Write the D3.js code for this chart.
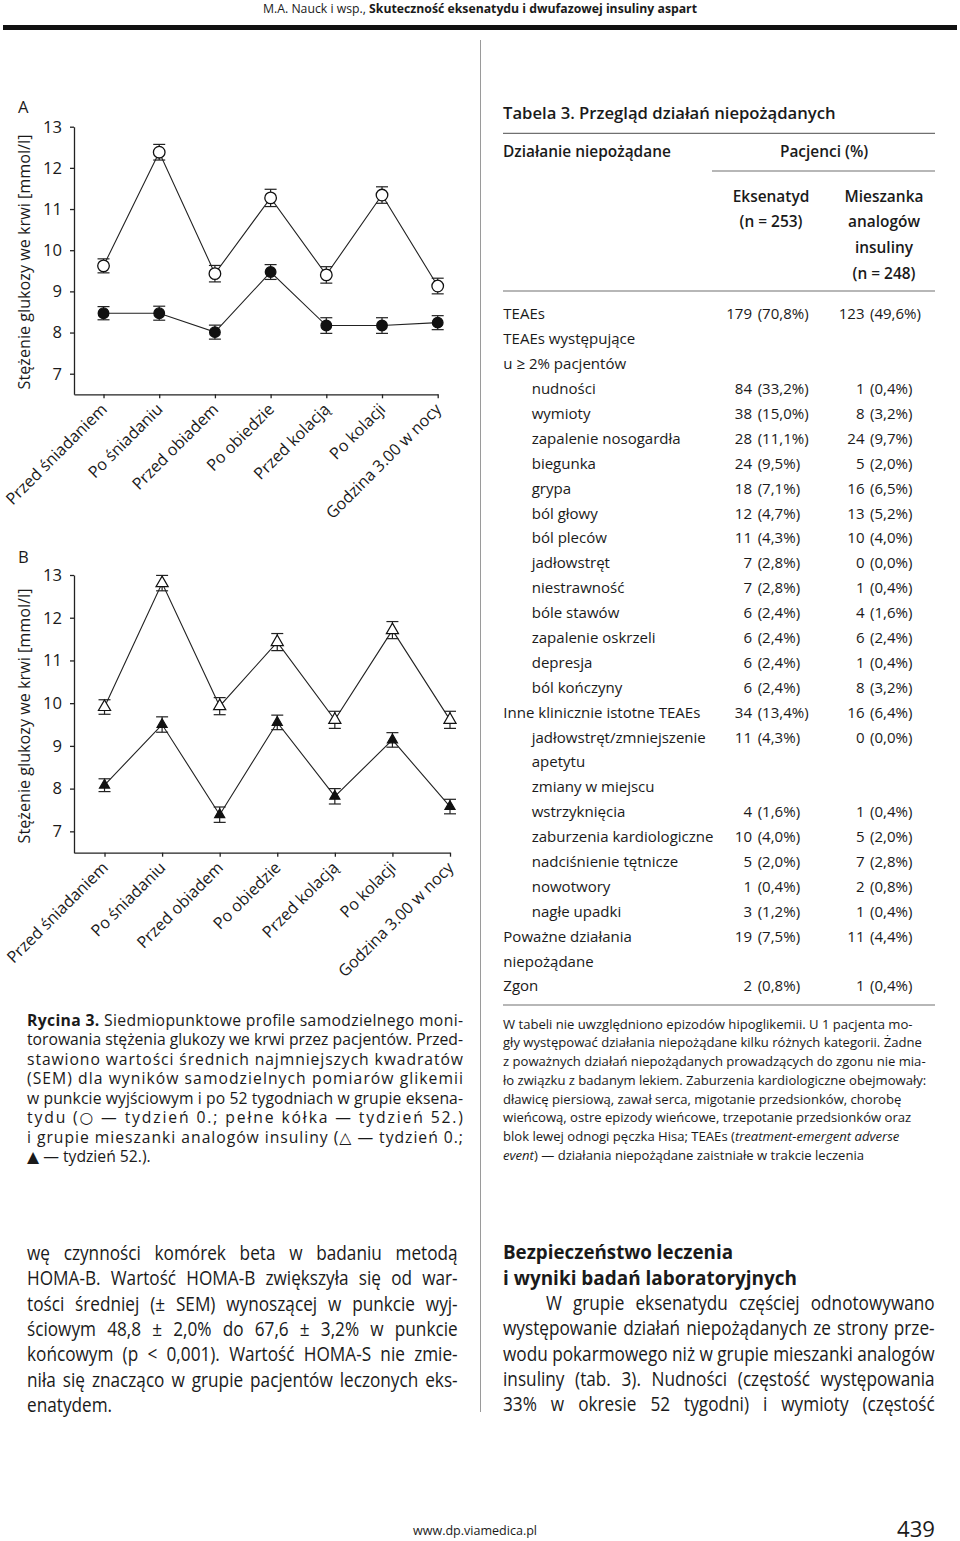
<!DOCTYPE html>
<html><head><meta charset="utf-8">
<script src="https://cdn.jsdelivr.net/npm/d3@7"></script>
<style>body{margin:0;background:#fff}svg{display:block}</style>
</head><body>
<script>
// ---------------- DATA ----------------
const categories = ["Przed śniadaniem","Po śniadaniu","Przed obiadem","Po obiedzie","Przed kolacją","Po kolacji","Godzina 3.00 w nocy"];
const yTicks = [7,8,9,10,11,12,13];
// Panel A – eksenatyd
const exenWeek0    = [9.62,12.38,9.43,11.27,9.40,11.34,9.13];
const exenWeek0Err = [0.17,0.19,0.20,0.21,0.20,0.20,0.19];
const exenWeek52    = [8.47,8.47,8.01,9.47,8.17,8.17,8.24];
const exenWeek52Err = [0.16,0.17,0.17,0.18,0.19,0.19,0.17];
// Panel B – mieszanka analogów insuliny
const mixWeek0    = [9.91,12.81,9.93,11.43,9.61,11.71,9.61];
const mixWeek0Err = [0.17,0.18,0.20,0.20,0.20,0.20,0.20];
const mixWeek52    = [8.08,9.50,7.39,9.55,7.82,9.14,7.58];
const mixWeek52Err = [0.15,0.18,0.18,0.17,0.18,0.17,0.17];

// Table 3
const tableLabels = ["TEAEs","TEAEs występujące","u ≥ 2% pacjentów","nudności","wymioty","zapalenie nosogardła","biegunka","grypa","ból głowy","ból pleców","jadłowstręt","niestrawność","bóle stawów","zapalenie oskrzeli","depresja","ból kończyny","Inne klinicznie istotne TEAEs","jadłowstręt/zmniejszenie","apetytu","zmiany w miejscu","wstrzyknięcia","zaburzenia kardiologiczne","nadciśnienie tętnicze","nowotwory","nagłe upadki","Poważne działania","niepożądane","Zgon"];
const tableLevels = [0,0,0,1,1,1,1,1,1,1,1,1,1,1,1,1,0,1,1,1,1,1,1,1,1,0,0,0];
const exenCounts = ["179","","","84","38","28","24","18","12","11","7","7","6","6","6","6","34","11","","","4","10","5","1","3","19","","2"];
const exenPct    = ["(70,8%)","","","(33,2%)","(15,0%)","(11,1%)","(9,5%)","(7,1%)","(4,7%)","(4,3%)","(2,8%)","(2,8%)","(2,4%)","(2,4%)","(2,4%)","(2,4%)","(13,4%)","(4,3%)","","","(1,6%)","(4,0%)","(2,0%)","(0,4%)","(1,2%)","(7,5%)","","(0,8%)"];
const mixCounts  = ["123","","","1","8","24","5","16","13","10","0","1","4","6","1","8","16","0","","","1","5","7","2","1","11","","1"];
const mixPct     = ["(49,6%)","","","(0,4%)","(3,2%)","(9,7%)","(2,0%)","(6,5%)","(5,2%)","(4,0%)","(0,0%)","(0,4%)","(1,6%)","(2,4%)","(0,4%)","(3,2%)","(6,4%)","(0,0%)","","","(0,4%)","(2,0%)","(2,8%)","(0,8%)","(0,4%)","(4,4%)","","(0,4%)"];

const captionLines = [
  [["Rycina 3.","b"],[" Siedmiopunktowe profile samodzielnego moni-",""]],
  [["torowania stężenia glukozy we krwi przez pacjentów. Przed-",""]],
  [["stawiono wartości średnich najmniejszych kwadratów",""]],
  [["(SEM) dla wyników samodzielnych pomiarów glikemii",""]],
  [["w punkcie wyjściowym i po 52 tygodniach w grupie eksena-",""]],
  [["tydu (○ — tydzień 0.; pełne kółka — tydzień 52.)",""]],
  [["i grupie mieszanki analogów insuliny (△ — tydzień 0.;",""]],
  [["▲ — tydzień 52.).",""]]
];
const footnoteLines = [
  [["W tabeli nie uwzględniono epizodów hipoglikemii. U 1 pacjenta mo-",""]],
  [["gły występować działania niepożądane kilku różnych kategorii. Żadne",""]],
  [["z poważnych działań niepożądanych prowadzących do zgonu nie mia-",""]],
  [["ło związku z badanym lekiem. Zaburzenia kardiologiczne obejmowały:",""]],
  [["dławicę piersiową, zawał serca, migotanie przedsionków, chorobę",""]],
  [["wieńcową, ostre epizody wieńcowe, trzepotanie przedsionków oraz",""]],
  [["blok lewej odnogi pęczka Hisa; TEAEs (",""],["treatment-emergent adverse","i"]],
  [["event","i"],[") — działania niepożądane zaistniałe w trakcie leczenia",""]]
];
const bodyLeft = [
  "wę czynności komórek beta w badaniu metodą",
  "HOMA-B. Wartość HOMA-B zwiększyła się od war-",
  "tości średniej (± SEM) wynoszącej w punkcie wyj-",
  "ściowym 48,8 ± 2,0% do 67,6 ± 3,2% w punkcie",
  "końcowym (p < 0,001). Wartość HOMA-S nie zmie-",
  "niła się znacząco w grupie pacjentów leczonych eks-",
  "enatydem."
];
const bodyRightHead = ["Bezpieczeństwo leczenia","i wyniki badań laboratoryjnych"];
const bodyRight = [
  "W grupie eksenatydu częściej odnotowywano",
  "występowanie działań niepożądanych ze strony prze-",
  "wodu pokarmowego niż w grupie mieszanki analogów",
  "insuliny (tab. 3). Nudności (częstość występowania",
  "33% w okresie 52 tygodni) i wymioty (częstość"
];

// ---------------- DRAW ----------------
const FONT = "'Open Sans','Noto Sans','DejaVu Sans',sans-serif";
const INK = "#1a1a1a";
const svg = d3.select("body").append("svg").attr("width",960).attr("height",1541);
svg.append("rect").attr("width",960).attr("height",1541).attr("fill","#fff");

function addText(parent, segs, size, weight){
  const t = parent.append("text").attr("font-family",FONT).attr("font-size",size).attr("fill",INK)
    .attr("font-weight", weight||400).style("white-space","pre");
  segs.forEach(([s,st])=>{
    const ts=t.append("tspan").text(s);
    if(st&&st.includes("b")) ts.attr("font-weight",700);
    if(st&&st.includes("i")) ts.attr("font-style","italic");
  });
  return t;
}
function widthOf(segs,size,weight){const t=addText(svg,segs,size,weight);const w=t.node().getComputedTextLength();t.remove();return w;}
function fit(str,target,weight){return 100*target/widthOf([[str,""]],100,weight);}

// header
addText(svg,[["M.A. Nauck i wsp., ",""],["Skuteczność eksenatydu i dwufazowej insuliny aspart","b"]],13)
  .attr("x",263).attr("y",13).attr("textLength",434).attr("lengthAdjust","spacingAndGlyphs");
svg.append("rect").attr("x",3).attr("y",25).attr("width",954).attr("height",5).attr("fill","#111");

// column divider
svg.append("line").attr("x1",480.5).attr("x2",480.5).attr("y1",40).attr("y2",1412).attr("stroke","#9a9a9a").attr("stroke-width",1);

// ---- charts ----
const chartSize = fit("Stężenie glukozy we krwi [mmol/l]",255,400);
const tickSize = fit("13",19,400);
function chart(cfg){
  const g = svg.append("g");
  const x = d3.scaleLinear().domain([-0.53,6]).range([cfg.left,cfg.right]);
  const y = d3.scaleLinear().domain([6.5,13]).range([cfg.bottom,cfg.top]);
  const ya = g.append("g").attr("transform",`translate(${cfg.left},0)`)
    .call(d3.axisLeft(y).tickValues(yTicks).tickFormat(d3.format("d")).tickSize(4).tickSizeOuter(0).tickPadding(8));
  const xa = g.append("g").attr("transform",`translate(0,${cfg.bottom})`)
    .call(d3.axisBottom(x).tickValues(d3.range(categories.length)).tickFormat(i=>categories[i]).tickSize(4).tickSizeOuter(0));
  [ya,xa].forEach(a=>{
    a.attr("font-family",FONT).attr("font-size",chartSize);
    a.selectAll("path,line").attr("stroke","#222").attr("stroke-width",1.3);
    a.selectAll("text").attr("fill",INK);
  });
  ya.attr("font-size",tickSize);
  xa.selectAll("text").attr("y",0).attr("dy",0).attr("text-anchor","end").attr("transform","translate(4,16) rotate(-45)");
  // y title
  g.append("text").attr("font-family",FONT).attr("font-size",chartSize).attr("fill",INK)
    .attr("text-anchor","middle").attr("transform",`translate(30,${cfg.titleY}) rotate(-90)`)
    .text("Stężenie glukozy we krwi [mmol/l]");
  g.append("text").attr("font-family",FONT).attr("font-size",tickSize).attr("fill",INK)
    .attr("x",18).attr("y",cfg.letterY).text(cfg.letter);
  const line = d3.line().x((d,i)=>x(i)).y(d=>y(d));
  cfg.series.forEach(s=>{
    g.append("path").attr("d",line(s.vals)).attr("fill","none").attr("stroke","#222").attr("stroke-width",1.1);
  });
  cfg.series.forEach(s=>{
    const eb = g.append("g").attr("stroke","#222").attr("stroke-width",1.2);
    s.vals.forEach((v,i)=>{
      const cx=x(i), y1=y(v-s.err[i]), y2=y(v+s.err[i]);
      eb.append("line").attr("x1",cx).attr("x2",cx).attr("y1",y1).attr("y2",y2);
      eb.append("line").attr("x1",cx-6).attr("x2",cx+6).attr("y1",y1).attr("y2",y1);
      eb.append("line").attr("x1",cx-6).attr("x2",cx+6).attr("y1",y2).attr("y2",y2);
    });
  });
  cfg.series.forEach(s=>{
    s.vals.forEach((v,i)=>{
      if(s.shape==="circle"){
        g.append("circle").attr("cx",x(i)).attr("cy",y(v)).attr("r",s.filled?5.3:5.8)
          .attr("fill",s.filled?"#111":"#fff").attr("stroke","#111").attr("stroke-width",1.3);
      } else {
        g.append("path").attr("d",d3.symbol(d3.symbolTriangle, s.filled?44:64)())
          .attr("transform",`translate(${x(i)},${y(v)})`)
          .attr("fill",s.filled?"#111":"#fff").attr("stroke","#111").attr("stroke-width",1.2);
      }
    });
  });
}
chart({left:74,right:437.7,top:126.7,bottom:394.3,titleY:262,letter:"A",letterY:113,
  series:[{vals:exenWeek0,err:exenWeek0Err,shape:"circle",filled:false},{vals:exenWeek52,err:exenWeek52Err,shape:"circle",filled:true}]});
chart({left:74,right:450,top:575,bottom:852.7,titleY:716,letter:"B",letterY:563,
  series:[{vals:mixWeek0,err:mixWeek0Err,shape:"tri",filled:false},{vals:mixWeek52,err:mixWeek52Err,shape:"tri",filled:true}]});

// ---- caption ----
{
  const target=436;
  let maxW=0; captionLines.slice(0,7).forEach(l=>{maxW=Math.max(maxW,widthOf(l,100));});
  const size=100*target/maxW;
  captionLines.forEach((l,i)=>{
    const t=addText(svg,l,size).attr("x",27).attr("y",1020+19.5*i).attr("dy","0.36em");
    if(i<7) t.attr("textLength",target).attr("lengthAdjust","spacing");
  });
}

// ---- table ----
{
  const tg = svg.append("g");
  const titleSize = fit("Tabela 3. Przegląd działań niepożądanych",333,600);
  addText(tg,[["Tabela 3. Przegląd działań niepożądanych",""]],titleSize,600).attr("x",503).attr("y",112.7).attr("dy","0.36em");
  const rule=(x1,x2,yy)=>tg.append("line").attr("x1",x1).attr("x2",x2).attr("y1",yy).attr("y2",yy).attr("stroke","#707070").attr("stroke-width",1.2);
  rule(503,935,133.3); rule(712,935,171); rule(503,935,291); rule(503,935,1005);
  const hs = fit("Działanie niepożądane",168,600);
  const head=(s,xx,yy,anchor)=>addText(tg,[[s,""]],hs,600).attr("x",xx).attr("y",yy).attr("dy","0.36em").attr("text-anchor",anchor);
  head("Działanie niepożądane",503,151.7,"start");
  head("Pacjenci (%)",824,151.7,"middle");
  head("Eksenatyd",771,196,"middle"); head("(n = 253)",771,221.7,"middle");
  head("Mieszanka",884,196,"middle"); head("analogów",884,221.7,"middle");
  head("insuliny",884,247,"middle"); head("(n = 248)",884,273,"middle");
  const ts = fit("zaburzenia kardiologiczne",182,400);
  tableLabels.forEach((lab,i)=>{
    const yy=314+i*24.89;
    addText(tg,[[lab,""]],ts).attr("x",tableLevels[i]?531.7:503.3).attr("y",yy).attr("dy","0.36em");
    if(exenCounts[i]){
      addText(tg,[[exenCounts[i],""]],ts).attr("x",752).attr("y",yy).attr("dy","0.36em").attr("text-anchor","end");
      addText(tg,[[exenPct[i],""]],ts).attr("x",757.7).attr("y",yy).attr("dy","0.36em");
      addText(tg,[[mixCounts[i],""]],ts).attr("x",864.5).attr("y",yy).attr("dy","0.36em").attr("text-anchor","end");
      addText(tg,[[mixPct[i],""]],ts).attr("x",870).attr("y",yy).attr("dy","0.36em");
    }
  });
  const fs = fit("gły występować działania niepożądane kilku różnych kategorii. Żadne",419,400);
  footnoteLines.forEach((l,i)=>{
    addText(tg,l,fs).attr("x",503).attr("y",1024+18.7*i).attr("dy","0.36em");
  });
}

// ---- body text ----
{
  const size=20;
  const nat = s=>widthOf([[s,""]],size);
  const spaces = s=>(s.match(/ /g)||[]).length;
  const just = [];
  bodyLeft.slice(0,6).forEach(s=>just.push({s,target:431}));
  bodyRight.forEach((s,i)=>just.push({s,target:i===0?389:432}));
  let sc=Infinity; just.forEach(o=>{sc=Math.min(sc,o.target/nat(o.s));});
  const drawCol=(lines,x0,yStart,targets,indent)=>{
    lines.forEach((s,i)=>{
      const g=svg.append("g").attr("transform",`translate(${x0+(indent[i]||0)},0) scale(${sc},1)`);
      const t=addText(g,[[s,""]],size).attr("x",0).attr("y",yStart+25.3*i).attr("dy","0.36em");
      if(targets[i]){
        const ws=(targets[i]/sc-nat(s))/Math.max(1,spaces(s));
        t.attr("word-spacing",ws);
      }
    });
  };
  drawCol(bodyLeft,27,1253,[431,431,431,431,431,431,0],[]);
  bodyRightHead.forEach((s,i)=>{
    addText(svg,[[s,""]],size,700).attr("x",503).attr("y",1252+25.3*i).attr("dy","0.36em")
      .attr("textLength",[230,294][i]).attr("lengthAdjust","spacingAndGlyphs");
  });
  drawCol(bodyRight,503,1303,[389,432,432,432,432],[43]);
}

// footer
addText(svg,[["www.dp.viamedica.pl",""]],13.5).attr("x",413).attr("y",1535).attr("textLength",124).attr("lengthAdjust","spacingAndGlyphs");
addText(svg,[["439",""]],fit("439",38,400)).attr("x",935).attr("y",1537).attr("text-anchor","end");
</script>
</body></html>
